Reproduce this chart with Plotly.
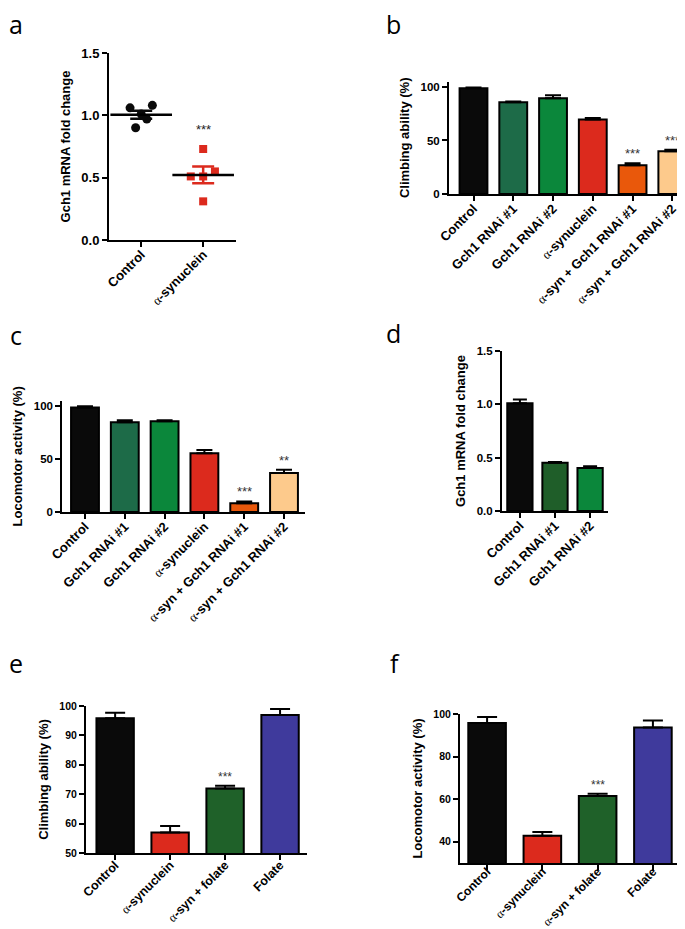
import plotly.graph_objects as go
import numpy as np

W, H = 685, 929

# ---------------- data ----------------
# Panel a (dot plot)
a_groups = ["Control", "α-synuclein"]
a_control = [1.06, 1.08, 1.01, 0.97, 0.90]
a_control_jit = [-0.18, 0.18, 0.0, 0.09, -0.09]
a_asyn = [0.73, 0.51, 0.51, 0.55, 0.31]
a_asyn_jit = [0.0, -0.2, 0.0, 0.19, 0.0]
a_sig = ["", "***"]

# Panel b (climbing, RNAi)
bc_cats = ["Control", "Gch1 RNAi #1", "Gch1 RNAi #2", "α-synuclein",
           "α-syn + Gch1 RNAi #1", "α-syn + Gch1 RNAi #2"]
b_vals = [98.8, 85.7, 89.4, 69.5, 26.8, 39.9]
b_err = [0.7, 0.6, 2.8, 1.5, 1.9, 1.5]
b_sig = ["", "", "", "", "***", "***"]

# Panel c (locomotor, RNAi)
c_vals = [98.7, 84.6, 85.6, 55.5, 8.2, 36.7]
c_err = [1.0, 1.9, 0.9, 3.1, 1.8, 3.1]
c_sig = ["", "", "", "", "***", "**"]

# Panel d (knockdown)
d_cats = ["Control", "Gch1 RNAi #1", "Gch1 RNAi #2"]
d_vals = [1.01, 0.453, 0.403]
d_err = [0.035, 0.007, 0.017]

# Panel e / f (folate)
ef_cats = ["Control", "α-synuclein", "α-syn + folate", "Folate"]
e_vals = [95.8, 57.0, 71.9, 96.9]
e_err = [1.9, 2.2, 0.95, 2.1]
e_sig = ["", "", "***", ""]
f_vals = [95.8, 42.8, 61.5, 93.7]
f_err = [2.8, 1.8, 1.0, 3.3]
f_sig = ["", "", "***", ""]

# ---------------- styles ----------------
bc_colors = ["#0a0a0a", "#1d6b48", "#0b873b", "#dc2a1d", "#e9580b", "#fdca8c"]
d_colors = ["#0a0a0a", "#1f5e29", "#0b873b"]
ef_colors = ["#0a0a0a", "#dc2a1d", "#1f6129", "#3f3a9c"]

FONT = "Liberation Sans, Arial, sans-serif"


def lab(s):
    return s.replace("α", "<span style='font-family:Liberation Serif;font-weight:normal'>α</span>")


def px_dom(x0, x1, y0, y1):
    return [x0 / W, x1 / W], [1 - y1 / H, 1 - y0 / H]


fig = go.Figure()
layout = dict(width=W, height=H, margin=dict(l=0, r=0, t=0, b=0),
              paper_bgcolor="white", plot_bgcolor="white", showlegend=False,
              font=dict(family=FONT, color="black"))
annotations = []

panels = {
    1: dict(box=(101, 228, 45, 232), xr=[-0.52, 1.53], yr=[0, 1.5], tv=[0, 0.5, 1.0, 1.5], tf=".1f",
            title="Gch1 mRNA fold change", ts=13, xs=13, so=-5, cats=a_groups),
    2: dict(box=(441, 685, 73.6, 186), xr=[-0.616, 5.52], yr=[0, 105], tv=[0, 50, 100], tf="d",
            title="Climbing ability (%)", ts=11.5, xs=13, so=-5, cats=bc_cats),
    3: dict(box=(54.3, 296.7, 392.7, 504), xr=[-0.57, 5.52], yr=[0, 105], tv=[0, 50, 100], tf="d",
            title="Locomotor activity (%)", ts=11.5, xs=13, so=-5, cats=bc_cats),
    4: dict(box=(494, 600, 343, 503), xr=[-0.51, 2.51], yr=[0, 1.5], tv=[0, 0.5, 1.0, 1.5], tf=".1f",
            title="Gch1 mRNA fold change", ts=11.5, xs=13, so=-5, cats=d_cats),
    5: dict(box=(78, 299, 698, 845), xr=[-0.53, 3.49], yr=[50, 100], tv=[50, 60, 70, 80, 90, 100], tf="d",
            title="Climbing ability (%)", ts=10.5, xs=12.5, so=-7, cats=ef_cats),
    6: dict(box=(452, 672, 706, 855), xr=[-0.49, 3.49], yr=[30, 100], tv=[40, 60, 80, 100], tf="d",
            title="Locomotor activity (%)", ts=10.5, xs=12, so=-10, cats=ef_cats),
}

for i, p in panels.items():
    xd, yd = px_dom(*p["box"])
    sfx = "" if i == 1 else str(i)
    layout["xaxis" + sfx] = dict(
        domain=xd, anchor="y" + sfx, range=p["xr"], showline=True, linecolor="black", linewidth=2,
        ticks="outside", ticklen=5, tickwidth=2, tickcolor="black", showgrid=False, zeroline=False,
        tickmode="array", tickvals=list(range(len(p["cats"]))), ticktext=[lab(c) for c in p["cats"]],
        tickangle=-45, ticklabelstandoff=p["so"],
        tickfont=dict(family=FONT, size=p["xs"], weight="bold"), automargin=False, fixedrange=True)
    layout["yaxis" + sfx] = dict(
        domain=yd, anchor="x" + sfx, range=p["yr"], showline=True, linecolor="black", linewidth=2,
        ticks="outside", ticklen=5, tickwidth=2, tickcolor="black", showgrid=False, zeroline=False,
        tickmode="array", tickvals=p["tv"], tickformat=p["tf"],
        tickfont=dict(family=FONT, size=p["ts"], weight="bold"),
        title=dict(text=p["title"], font=dict(family=FONT, size=13, weight="bold"), standoff=8),
        automargin=False, fixedrange=True)

# ---- panel a ----
a_sets = [(a_control, a_control_jit, "#0a0a0a", "circle", 9),
          (a_asyn, a_asyn_jit, "#dc2a1d", "square", 8)]
for gi, (vals, jit, col, sym, sz) in enumerate(a_sets):
    fig.add_trace(go.Scatter(x=[gi + j for j in jit], y=vals, mode="markers", xaxis="x", yaxis="y",
                             marker=dict(color=col, symbol=sym, size=sz), cliponaxis=False))
    arr = np.array(vals)
    mean = arr.mean()
    sem = arr.std(ddof=1) / np.sqrt(len(arr))
    fig.add_trace(go.Scatter(x=[gi], y=[mean], mode="markers", xaxis="x", yaxis="y",
                             marker=dict(symbol="line-ew", size=44, color="black",
                                         line=dict(width=2.5, color="black")),
                             error_y=dict(type="data", array=[sem], color=col, thickness=2.5, width=11),
                             cliponaxis=False))
    if a_sig[gi]:
        annotations.append(dict(x=gi, y=max(vals), xref="x", yref="y", text=a_sig[gi], showarrow=False,
                                yanchor="bottom", yshift=10, font=dict(size=13, color="#222")))


def bars(sfx, cats, vals, errs, colors, sig, width, capw, sigsize=13):
    xs = list(range(len(cats)))
    fig.add_trace(go.Bar(x=xs, y=vals, xaxis="x" + sfx, yaxis="y" + sfx, width=width,
                         marker=dict(color=colors, line=dict(color="black", width=2)),
                         error_y=dict(type="data", symmetric=False, array=errs, arrayminus=[0] * len(errs),
                                      color="black", thickness=2, width=capw)))
    for k, s in enumerate(sig):
        if s:
            annotations.append(dict(x=xs[k], y=vals[k] + errs[k], xref="x" + sfx, yref="y" + sfx,
                                    text=s, showarrow=False, yanchor="bottom", yshift=0,
                                    font=dict(size=sigsize, color="#333333")))


bars("2", bc_cats, b_vals, b_err, bc_colors, b_sig, 0.7, 8)
bars("3", bc_cats, c_vals, c_err, bc_colors, c_sig, 0.7, 8)
bars("4", d_cats, d_vals, d_err, d_colors, [""] * 3, 0.72, 7)
bars("5", ef_cats, e_vals, e_err, ef_colors, e_sig, 0.68, 10, 12)
bars("6", ef_cats, f_vals, f_err, ef_colors, f_sig, 0.68, 10, 12)

# panel letters (glyph centre x, baseline y)
for t, x, yb in [("a", 8, 25), ("b", 385.5, 25), ("c", 8, 335), ("d", 385, 333), ("e", 8, 663), ("f", 386.5, 663)]:
    annotations.append(dict(x=x / W, y=1 - (yb - 8.5) / H, xref="paper", yref="paper", text=t, showarrow=False,
                            xanchor="center", yanchor="middle", font=dict(family="Open Sans", size=25, color="black")))

layout["annotations"] = annotations
fig.update_layout(**layout)
fig.write_html("out.html")
